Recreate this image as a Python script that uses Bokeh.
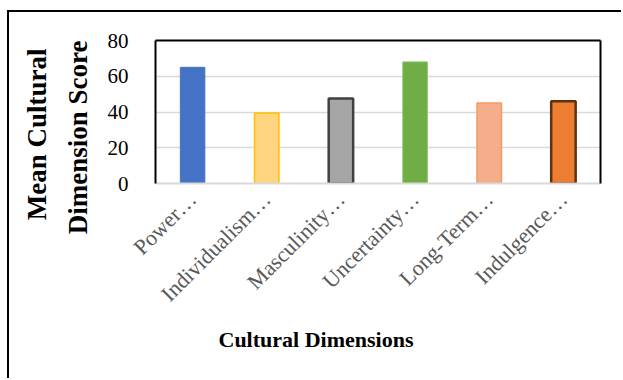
from math import pi
from bokeh.plotting import figure
from bokeh.models import (FactorRange, Range1d, Title, ColumnDataSource,
                          FixedTicker, LinearAxis, CategoricalAxis)
from bokeh.embed import file_html
from bokeh.resources import INLINE

# ---- data ----
categories = ["Power…", "Individualism…", "Masculinity…", "Uncertainty…", "Long-Term…", "Indulgence…"]
scores = [65, 39.5, 47.5, 68, 45, 46]
y_ticks = [0, 20, 40, 60, 80]
y_title_lines = ["Mean Cultural", "Dimension Score"]
x_title = "Cultural Dimensions"

# ---- styles ----
fill_colors = ["#4472C4", "#FFD580", "#A5A5A5", "#6FAD45", "#F5AE8C", "#ED7D31"]
line_colors = ["#4472C4", "#FFC000", "#404040", "#86BF60", "#F59A5E", "#5E3210"]
line_widths = [1, 1.5, 2.5, 1, 1.5, 2.5]

src = ColumnDataSource(dict(cat=categories, score=scores, fill=fill_colors,
                            line=line_colors, lw=line_widths))

p = figure(x_range=FactorRange(*categories), y_range=Range1d(0, 80),
           width=614, height=368, output_backend="svg", toolbar_location=None,
           min_border_left=146, min_border_right=23, min_border_top=28, min_border_bottom=197,
           background_fill_color="white", border_fill_color="white")
p.styles = {"margin-left": "7px", "margin-top": "10px",
            "border-left": "2px solid black", "border-top": "2px solid black"}

p.vbar(x="cat", top="score", width=0.33, bottom=0, source=src,
       fill_color="fill", line_color="line", line_width="lw")

p.outline_line_color = None
p.xgrid.visible = False
p.ygrid.grid_line_color = "#D9D9D9"
p.ygrid.grid_line_width = 1.5
p.ygrid.ticker = FixedTicker(ticks=y_ticks)

ya = p.yaxis[0]
ya.ticker = FixedTicker(ticks=y_ticks)
ya.axis_line_color = "black"
ya.axis_line_width = 2
ya.major_tick_line_color = None
ya.minor_tick_line_color = None
ya.major_label_text_font = "Liberation Serif"
ya.major_label_text_font_size = "21px"
ya.major_label_text_color = "#000000"
ya.major_label_standoff = 21

xa = p.xaxis[0]
xa.axis_line_color = "#D9D9D9"
xa.axis_line_width = 2
xa.major_tick_line_color = None
xa.minor_tick_line_color = None
xa.major_label_orientation = pi / 4
xa.major_label_standoff = 6
xa.major_label_text_font = "Liberation Serif"
xa.major_label_text_font_size = "22px"
xa.major_label_text_color = "#595959"

# black frame on top and right
top_ax = CategoricalAxis(axis_line_color="black", axis_line_width=2,
                         major_tick_line_color=None, minor_tick_line_color=None,
                         major_label_text_color=None)
p.add_layout(top_ax, "above")
right_ax = LinearAxis(axis_line_color="black", axis_line_width=2,
                      major_tick_line_color=None, minor_tick_line_color=None,
                      major_label_text_color=None)
p.add_layout(right_ax, "right")

# axis titles
p.add_layout(Title(text=y_title_lines[1], align="right", offset=0, standoff=24,
                   text_font="Liberation Serif", text_font_style="bold",
                   text_font_size="27px", text_color="black"), "left")
p.add_layout(Title(text=y_title_lines[0], align="right", offset=8, standoff=-6,
                   text_font="Liberation Serif", text_font_style="bold",
                   text_font_size="27px", text_color="black"), "left")
p.add_layout(Title(text=x_title, align="left", offset=63, standoff=12,
                   text_font="Liberation Serif", text_font_style="bold",
                   text_font_size="22px", text_color="black"), "below")

html = file_html(p, INLINE)
open("out.html", "w").write(html)
